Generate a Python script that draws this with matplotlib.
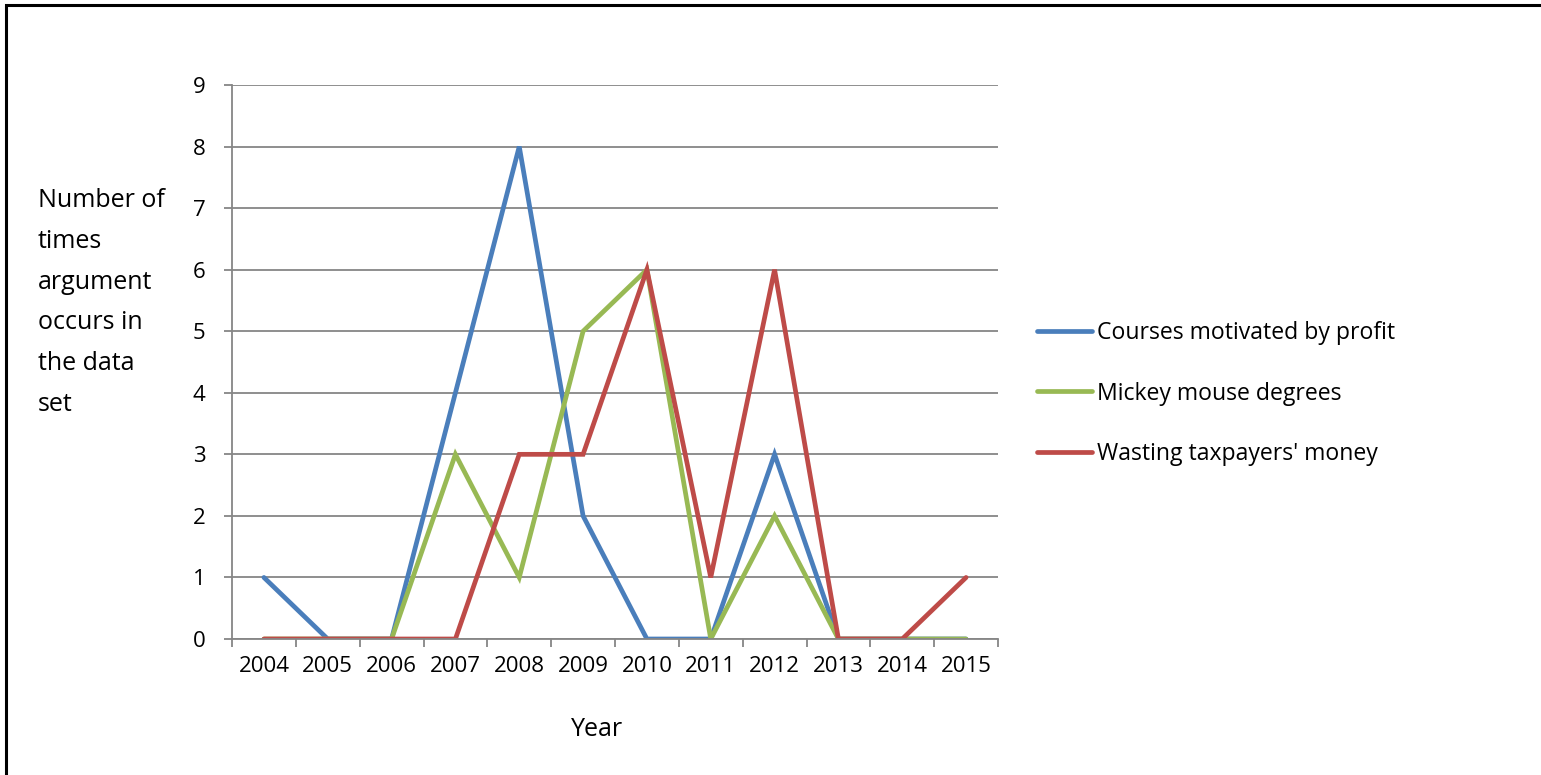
import matplotlib
matplotlib.use("Agg")
import matplotlib.pyplot as plt
from matplotlib.patches import Rectangle
import numpy as np

years = ["2004", "2005", "2006", "2007", "2008", "2009", "2010", "2011", "2012", "2013", "2014", "2015"]
profit = [1, 0, 0, 4, 8, 2, 0, 0, 3, 0, 0, 0]
mickey = [0, 0, 0, 3, 1, 5, 6, 0, 2, 0, 0, 0]
wasting = [0, 0, 0, 0, 3, 3, 6, 1, 6, 0, 0, 1]
series_names = ["Courses motivated by profit", "Mickey mouse degrees", "Wasting taxpayers' money"]
colors = ["#4A7EBB", "#98B954", "#BE4B48"]
ylabel_lines = ["Number of", "times", "argument", "occurs in", "the data", "set"]

plt.rcParams['font.family'] = ['Open Sans', 'DejaVu Sans']
FS = 16
FS_L = 16.6
FS_T = 18
W, H = 1541, 775
fig = plt.figure(figsize=(W / 100, H / 100), dpi=100)
ax = fig.add_axes([232 / W, 1 - 639 / H, (998 - 232) / W, (639 - 85) / H])

x = np.arange(len(years))
for vals, name, c in zip([profit, mickey, wasting], series_names, colors):
    ax.plot(x, vals, color=c, lw=3.4, label=name, solid_capstyle='round', solid_joinstyle='miter')

grid_c = "#868686"
ax.set_xlim(-0.5, len(years) - 0.5)
ax.set_ylim(0, 9)
ax.set_yticks(range(10))
ax.yaxis.grid(True, color=grid_c, lw=1.3)
ax.set_axisbelow(True)
for s in ['top', 'right']:
    ax.spines[s].set_visible(False)
for s in ['left', 'bottom']:
    ax.spines[s].set_color(grid_c)
    ax.spines[s].set_linewidth(1.3)
ax.set_xticks(x)
ax.set_xticklabels(years)
ax.set_xticks(np.arange(-0.5, len(years), 1), minor=True)
ax.tick_params(axis='x', which='major', length=0, pad=12, labelsize=FS)
ax.tick_params(axis='x', which='minor', length=6, width=1.3, color=grid_c, direction='out')
ax.tick_params(axis='y', length=6, width=1.3, color=grid_c, pad=13, labelsize=FS)

fig.text(597 / W, 1 - 736 / H, "Year", ha='center', va='baseline', fontsize=FS_T)
for i, t in enumerate(ylabel_lines):
    fig.text(38 / W, 1 - (207 + i * 40.8) / H, t, ha='left', va='baseline', fontsize=FS_T)

leg = ax.legend(loc='center left', bbox_to_anchor=(1037 / W, 1 - 393.5 / H), bbox_transform=fig.transFigure,
                frameon=False, fontsize=FS_L, handlelength=2.4, handletextpad=0.2, labelspacing=1.6,
                borderpad=0, borderaxespad=0)

fig.patches.append(Rectangle((6 / W, -0.1), 1.2, 1 - 5 / H + 0.1, transform=fig.transFigure,
                             fill=False, edgecolor='black', lw=2.2))

fig.savefig("out.png", dpi=100)
